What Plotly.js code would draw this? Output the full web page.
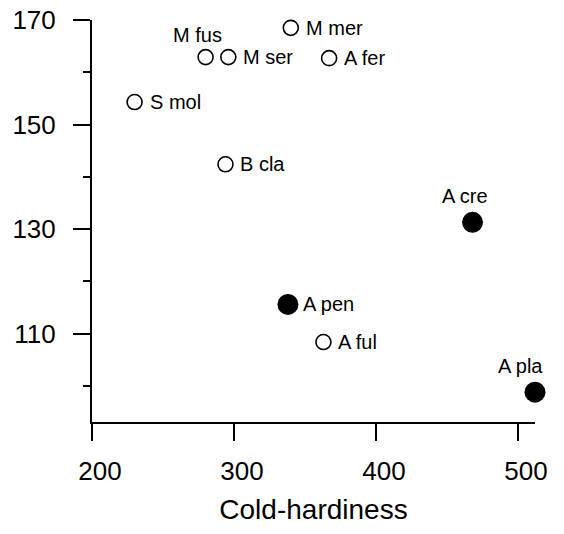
<!DOCTYPE html>
<html>
<head>
<meta charset="utf-8">
<script src="https://cdn.plot.ly/plotly-3.0.1.min.js"></script>
<style>html,body{margin:0;padding:0;background:#fff;}#chart{width:564px;height:534px;}</style>
</head>
<body>
<div id="chart"></div>
<script>
// Open-circle species
const openNames = ["M fus", "M ser", "A fer", "M mer", "S mol", "B cla", "A ful"];
const openX = [280, 296, 367, 340, 230, 294, 363];
const openY = [162.9, 162.9, 162.7, 168.5, 154.3, 142.4, 108.4];

// Filled-circle species
const filledNames = ["A pen", "A cre", "A pla"];
const filledX = [338, 468, 512];
const filledY = [115.6, 131.3, 98.8];

const xTickVals = [200, 300, 400, 500];
const yTickVals = [110, 130, 150, 170];
const yMinorTickVals = [100, 120, 140, 160];

// Label placement style (pixel offsets, keyed by name)
const labelStyle = {
  "M fus": {xanchor: "right", xshift: 18, yshift: 22},
  "A cre": {xanchor: "right", xshift: 17, yshift: 26},
  "A pla": {xanchor: "right", xshift: 10, yshift: 26}
};
const defaultLabel = {xanchor: "left", xshift: 13, yshift: 0};

const font = "Liberation Sans, Arial, Helvetica, sans-serif";

const traces = [
  {
    x: openX, y: openY, mode: "markers", type: "scatter", cliponaxis: false,
    marker: {symbol: "circle-open", size: 15, color: "#000", line: {width: 1.6, color: "#000"}},
    hoverinfo: "skip"
  },
  {
    x: filledX, y: filledY, mode: "markers", type: "scatter", cliponaxis: false,
    marker: {symbol: "circle", size: 21, color: "#000"},
    hoverinfo: "skip"
  }
];

const annotations = [];
function addLabels(names, xs, ys) {
  names.forEach((n, i) => {
    const s = labelStyle[n] || defaultLabel;
    annotations.push({
      x: xs[i], y: ys[i], xref: "x", yref: "y", text: n, showarrow: false,
      xanchor: s.xanchor, yanchor: "middle", xshift: s.xshift, yshift: s.yshift,
      font: {family: font, size: 20, color: "#000"}
    });
  });
}
addLabels(openNames, openX, openY);
addLabels(filledNames, filledX, filledY);

const layout = {
  width: 564, height: 534,
  margin: {l: 92, r: 29, t: 20, b: 112},
  paper_bgcolor: "#fff", plot_bgcolor: "#fff",
  showlegend: false,
  font: {family: font, color: "#000"},
  annotations: annotations,
  xaxis: {
    range: [200, 512], showgrid: false, zeroline: false,
    showline: true, linecolor: "#000", linewidth: 2,
    ticks: "outside", ticklen: 17, tickwidth: 2, tickcolor: "#000",
    tickvals: xTickVals, ticktext: xTickVals.map(String),
    tickfont: {family: font, size: 26, color: "#000"},
    ticklabelstandoff: 8, ticklabelshift: 8,
    title: {text: "Cold-hardiness", font: {family: font, size: 28, color: "#000"}, standoff: 14}
  },
  yaxis: {
    range: [93.1, 170], showgrid: false, zeroline: false,
    showline: true, linecolor: "#000", linewidth: 2,
    ticks: "outside", ticklen: 17, tickwidth: 2, tickcolor: "#000",
    tickvals: yTickVals, ticktext: yTickVals.map(String),
    tickfont: {family: font, size: 26, color: "#000"},
    ticklabelstandoff: 12,
    minor: {tickvals: yMinorTickVals, ticks: "outside", ticklen: 7, tickwidth: 2, tickcolor: "#000", showgrid: false}
  }
};

Plotly.newPlot("chart", traces, layout, {staticPlot: true, displayModeBar: false});
</script>
</body>
</html>
